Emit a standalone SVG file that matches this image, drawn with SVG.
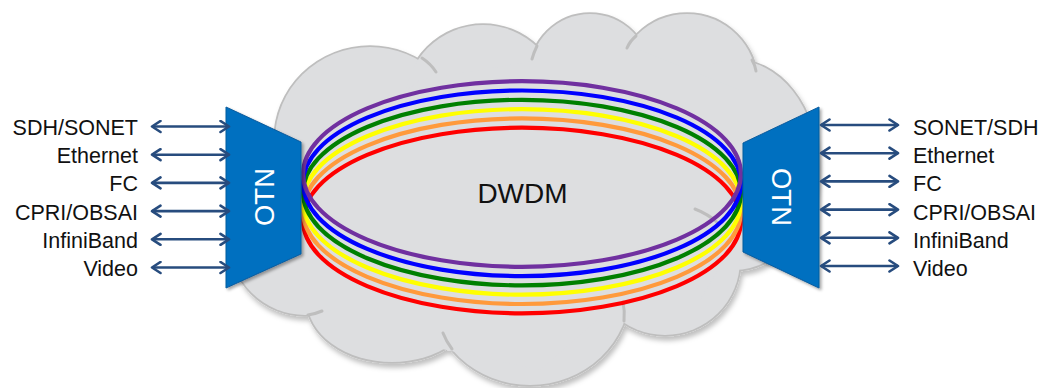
<svg xmlns="http://www.w3.org/2000/svg" width="1042" height="388" viewBox="0 0 1042 388">
  <defs>
    <filter id="cloudShadow" x="-10%" y="-10%" width="120%" height="125%">
      <feDropShadow dx="2" dy="4" stdDeviation="2.5" flood-color="#000" flood-opacity="0.25"/>
    </filter>
    <filter id="otnShadow" x="-20%" y="-10%" width="140%" height="125%">
      <feDropShadow dx="2" dy="2" stdDeviation="1.5" flood-color="#000" flood-opacity="0.35"/>
    </filter>
    <marker id="head" viewBox="0 0 12 14" refX="10" refY="7" markerWidth="12" markerHeight="14" markerUnits="userSpaceOnUse" orient="auto-start-reverse">
      <path d="M1.5,1.5 L10,7 L1.5,12.5" fill="none" stroke="#274C7E" stroke-width="2.6" stroke-linecap="round" stroke-linejoin="round"/>
    </marker>
  </defs>
  <style>
    .lobe-s { fill: none; stroke: #BEBEBE; stroke-width: 3.5; }
    .lobe-f { fill: #DDDEE0; stroke: none; }
    .stub { fill: none; stroke: #BEBEBE; stroke-width: 3; stroke-linecap: round; }
    .ring { fill: none; stroke-width: 4.2; }
    .otn { fill: #0070C0; stroke: #0B5C9E; stroke-width: 1; filter: url(#otnShadow); }
    .otn-t { font-family: "Liberation Sans", Arial, sans-serif; font-size: 27.5px; fill: #FFFFFF; text-anchor: middle; }
    .lbl { font-family: "Liberation Sans", Arial, sans-serif; font-size: 21.5px; fill: #111111; }
    .lbl-l { text-anchor: end; }
    .lbl-r { text-anchor: start; }
    .dwdm { font-family: "Liberation Sans", Arial, sans-serif; font-size: 28px; fill: #111111; text-anchor: middle; }
    .arr { stroke: #274C7E; stroke-width: 2.6; fill: none; marker-start: url(#head); marker-end: url(#head); }
  </style>

  <g id="cloud" filter="url(#cloudShadow)">
    <g>
      <ellipse class="lobe-s" cx="370" cy="140" rx="95" ry="93"/>
      <circle class="lobe-s" cx="483" cy="103" r="78"/>
      <circle class="lobe-s" cx="590" cy="74" r="60"/>
      <circle class="lobe-s" cx="687" cy="84" r="70"/>
      <ellipse class="lobe-s" cx="734" cy="165" rx="83" ry="105"/>
      <circle class="lobe-s" cx="665" cy="260" r="75"/>
      <ellipse class="lobe-s" cx="530" cy="290" rx="100" ry="95"/>
      <ellipse class="lobe-s" cx="392" cy="300" rx="85" ry="62"/>
      <circle class="lobe-s" cx="305" cy="240" r="75"/>
    </g>
    <g>
      <ellipse class="lobe-f" cx="370" cy="140" rx="95" ry="93"/>
      <circle class="lobe-f" cx="483" cy="103" r="78"/>
      <circle class="lobe-f" cx="590" cy="74" r="60"/>
      <circle class="lobe-f" cx="687" cy="84" r="70"/>
      <ellipse class="lobe-f" cx="734" cy="165" rx="83" ry="105"/>
      <circle class="lobe-f" cx="665" cy="260" r="75"/>
      <ellipse class="lobe-f" cx="530" cy="290" rx="100" ry="95"/>
      <ellipse class="lobe-f" cx="392" cy="300" rx="85" ry="62"/>
      <circle class="lobe-f" cx="305" cy="240" r="75"/>
      <polygon class="lobe-f" points="330,150 420,80 540,60 640,50 740,90 760,200 700,300 620,300 540,370 400,340 300,290 290,200"/>
    </g>
    <path class="stub" d="M422,58 Q431,64 436,72"/>
    <path class="stub" d="M537,46 Q534,52 532,59"/>
    <path class="stub" d="M636,36 Q630,41 627,48"/>
    <path class="stub" d="M752,60 Q755,65 756,71"/>
    <path class="stub" d="M695,209 Q708,214 718,223"/>
    <path class="stub" d="M624,321 Q625,311 623,302"/>
    <path class="stub" d="M452,349 Q446,341 443,333"/>
    <path class="stub" d="M308,315 Q315,314 322,311"/>
  </g>

  <g id="dwdm-rings">
    <ellipse class="ring" stroke="#FF0000" cx="522" cy="220.5" rx="219" ry="92.8"/>
    <ellipse class="ring" stroke="#FF9A3C" cx="522" cy="211.2" rx="219" ry="92.8"/>
    <ellipse class="ring" stroke="#FFFF00" cx="522" cy="201.9" rx="219" ry="92.8"/>
    <ellipse class="ring" stroke="#008000" cx="522" cy="192.6" rx="219" ry="92.8"/>
    <ellipse class="ring" stroke="#0000FF" cx="522" cy="183.3" rx="219" ry="92.8"/>
    <ellipse class="ring" stroke="#7030A0" cx="522" cy="174" rx="219" ry="92.8"/>
    <text class="dwdm" x="522.5" y="203">DWDM</text>
  </g>

  <g id="otn-left">
    <polygon class="otn" points="226,107 301,142 301,254 226,288"/>
    <text class="otn-t" transform="translate(264,197) rotate(-90)" x="0" y="9.8">OTN</text>
  </g>

  <g id="otn-right">
    <polygon class="otn" points="743,143 819,107 819,288 743,252"/>
    <text class="otn-t" transform="translate(782,197) rotate(90)" x="0" y="9.8">OTN</text>
  </g>

  <g id="labels-left">
    <g id="l-sdh"><text class="lbl lbl-l" x="138" y="135">SDH/SONET</text></g>
    <g id="l-eth"><text class="lbl lbl-l" x="138" y="163.2">Ethernet</text></g>
    <g id="l-fc"><text class="lbl lbl-l" x="138" y="191.4">FC</text></g>
    <g id="l-cpri"><text class="lbl lbl-l" x="138" y="219.6">CPRI/OBSAI</text></g>
    <g id="l-ib"><text class="lbl lbl-l" x="138" y="247.8">InfiniBand</text></g>
    <g id="l-video"><text class="lbl lbl-l" x="138" y="276">Video</text></g>
  </g>

  <g id="labels-right">
    <g id="r-sonet"><text class="lbl lbl-r" x="913" y="135">SONET/SDH</text></g>
    <g id="r-eth"><text class="lbl lbl-r" x="913" y="163.2">Ethernet</text></g>
    <g id="r-fc"><text class="lbl lbl-r" x="913" y="191.4">FC</text></g>
    <g id="r-cpri"><text class="lbl lbl-r" x="913" y="219.6">CPRI/OBSAI</text></g>
    <g id="r-ib"><text class="lbl lbl-r" x="913" y="247.8">InfiniBand</text></g>
    <g id="r-video"><text class="lbl lbl-r" x="913" y="276">Video</text></g>
  </g>

  <g id="connectors">
    <line class="arr" x1="152" y1="126.5" x2="229" y2="126.5"/>
    <line class="arr" x1="152" y1="154.7" x2="229" y2="154.7"/>
    <line class="arr" x1="152" y1="182.9" x2="229" y2="182.9"/>
    <line class="arr" x1="152" y1="211.1" x2="229" y2="211.1"/>
    <line class="arr" x1="152" y1="239.3" x2="229" y2="239.3"/>
    <line class="arr" x1="152" y1="267.5" x2="229" y2="267.5"/>
    <line class="arr" x1="821" y1="125" x2="898" y2="125"/>
    <line class="arr" x1="821" y1="153.2" x2="898" y2="153.2"/>
    <line class="arr" x1="821" y1="181.4" x2="898" y2="181.4"/>
    <line class="arr" x1="821" y1="209.6" x2="898" y2="209.6"/>
    <line class="arr" x1="821" y1="237.8" x2="898" y2="237.8"/>
    <line class="arr" x1="821" y1="266" x2="898" y2="266"/>
  </g>
</svg>
